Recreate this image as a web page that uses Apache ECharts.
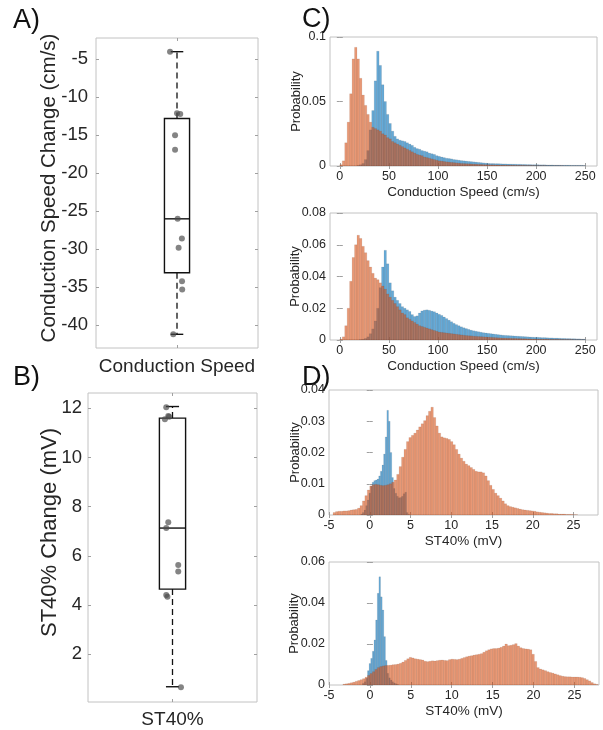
<!DOCTYPE html>
<html><head><meta charset="utf-8">
<script src="https://cdn.jsdelivr.net/npm/echarts@6/dist/echarts.min.js"></script>
<style>html,body{margin:0;padding:0;background:#fff}#c{width:603px;height:730px}</style>
</head><body><div id="c"></div>
<script>
// ---------------- DATA ----------------
// Panel A: conduction speed change boxplot
const catA = 'Conduction Speed';
const statsA = [-41.2, -33.1, -26.0, -12.8, -4.0];          // min, q1, median, q3, max (whisker ends)
const pointsA = [-4.0, -12.1, -12.2, -15.0, -16.9, -26.0, -28.6, -29.8, -34.2, -35.3, -41.2];
const jitterA = [-0.043, 0.0, 0.02, -0.012, -0.012, 0.004, 0.03, 0.01, 0.031, 0.032, -0.023];
const ticksAy = [-40, -35, -30, -25, -20, -15, -10, -5];

// Panel B: ST40% change boxplot
const catB = 'ST40%';
const statsB = [0.68, 4.65, 7.13, 11.6, 12.07];
const pointsB = [12.04, 11.69, 11.65, 11.55, 7.37, 7.13, 5.63, 5.36, 4.41, 4.34, 0.66];
const jitterB = [-0.037, -0.025, -0.02, -0.045, -0.025, -0.037, 0.034, 0.034, -0.037, -0.03, 0.05];
const ticksBy = [2, 4, 6, 8, 10, 12];

// Panel C: conduction speed histograms (bin start 0, width 2.5 cm/s)
const csBinStart = 0, csBinWidth = 2.5;
const csTicks = [0, 50, 100, 150, 200, 250];
const c1Blue = [0,0,0,0,0,0,0,0.0005,0.001,0.002,
 0.005,0.012,0.028,0.043,0.066,0.089,0.078,0.063,0.050,0.040,
 0.033,0.027,0.023,0.021,0.020,0.0195,0.019,0.018,0.017,0.016,
 0.0145,0.0135,0.013,0.012,0.0115,0.011,0.010,0.0095,0.009,0.008,
 0.0075,0.007,0.0065,0.006,0.0058,0.0055,0.005,0.0048,0.0045,0.0042,
 0.004,0.0038,0.0036,0.0034,0.0032,0.003,0.0028,0.0026,0.0024,0.0022,
 0.002,0.0019,0.0019,0.0018,0.0018,0.0017,0.0016,0.0016,0.0015,0.0015,
 0.0014,0.0014,0.0013,0.0013,0.0012,0.0012,0.0011,0.0011,0.001,0.001,
 0.001,0.0009,0.0009,0.0009,0.0008,0.0008,0.0008,0.0007,0.0007,0.0007,
 0.0006,0.0006,0.0006,0.0006,0.0005,0.0005,0.0005,0.0005,0.0005,0.0004];
const c1Orange = [0.001,0.004,0.018,0.034,0.056,0.083,0.092,0.083,0.068,0.055,
 0.047,0.040,0.034,0.030,0.029,0.028,0.027,0.025,0.024,0.022,
 0.021,0.019,0.018,0.017,0.016,0.015,0.014,0.013,0.012,0.011,
 0.010,0.009,0.0085,0.008,0.007,0.0065,0.006,0.0055,0.005,0.0045,
 0.004,0.0038,0.0035,0.0032,0.003,0.0028,0.0026,0.0024,0.0022,0.002,
 0.0019,0.0018,0.0017,0.0016,0.0015,0.0014,0.0013,0.0012,0.0011,0.001,
 0.001,0.0009,0.0009,0.0008,0.0008,0.0007,0.0007,0.0007,0.0006,0.0006,
 0.0006,0.0005,0.0005,0.0005,0.0005,0.0004,0.0004,0.0004,0.0004,0.0003,
 0.0003,0.0003,0.0003,0.0003,0.0002,0.0002,0.0002,0.0002,0.0002,0.0002,
 0.0002,0.0001,0.0001,0.0001,0.0001,0.0001,0.0001,0.0001,0.0001,0.0001];
const c2Blue = [0,0,0,0,0,0,0,0,0.0003,0.0005,
 0.001,0.002,0.004,0.007,0.012,0.020,0.033,0.046,0.0565,0.048,
 0.036,0.031,0.027,0.025,0.023,0.021,0.020,0.019,0.018,0.016,
 0.0148,0.0152,0.017,0.0183,0.0188,0.019,0.0187,0.0182,0.0178,0.017,
 0.0162,0.0155,0.0145,0.0135,0.0125,0.0115,0.0105,0.0097,0.009,0.0083,
 0.0077,0.0072,0.0067,0.0062,0.0058,0.0055,0.0052,0.0049,0.0046,0.0044,
 0.0042,0.004,0.0038,0.0036,0.0034,0.0032,0.003,0.0029,0.0028,0.0027,
 0.0026,0.0025,0.0024,0.0023,0.0022,0.0021,0.002,0.0019,0.0018,0.0017,
 0.0017,0.0016,0.0015,0.0015,0.0014,0.0013,0.0013,0.0012,0.0012,0.0011,
 0.001,0.001,0.0009,0.0009,0.0008,0.0008,0.0007,0.0007,0.0006,0.0006];
const c2Orange = [0.0005,0.002,0.009,0.020,0.037,0.052,0.060,0.066,0.064,0.059,
 0.055,0.050,0.046,0.042,0.039,0.038,0.036,0.034,0.032,0.029,
 0.027,0.025,0.023,0.021,0.019,0.017,0.016,0.014,0.013,0.012,
 0.011,0.010,0.009,0.0085,0.008,0.0075,0.007,0.0065,0.006,0.0055,
 0.005,0.0048,0.0046,0.0044,0.0042,0.004,0.0038,0.0036,0.0034,0.0032,
 0.003,0.0028,0.0027,0.0026,0.0024,0.0023,0.0022,0.0021,0.002,0.0019,
 0.0018,0.0017,0.0016,0.0015,0.0014,0.0013,0.0012,0.0012,0.0011,0.0011,
 0.001,0.001,0.0009,0.0009,0.0008,0.0008,0.0007,0.0007,0.0006,0.0006,
 0.0005,0.0005,0.0005,0.0005,0.0005,0.0004,0.0004,0.0004,0.0004,0.0004,
 0.0003,0.0003,0.0003,0.0003,0.0003,0.0002,0.0002,0.0002,0.0002,0.0002];

// Panel D: ST40% histograms
const stTicks = [-5, 0, 5, 10, 15, 20, 25];
const d1BlueStart = -1.1, d1BlueWidth = 0.2;
const d1Blue = [0.0003,0.0008,0.0016,0.0030,0.0048,0.0070,0.0092,0.0105,0.0110,0.0112,
 0.0115,0.0125,0.0140,0.0160,0.0195,0.0250,0.0335,0.0300,0.0200,0.0120,
 0.0085,0.0070,0.0060,0.0055,0.0056,0.0060,0.0068,0.0073,0.0008,0.0002];
const d1OrangeStart = -4.5, d1OrangeWidth = 0.3;
const d1Orange = [0.0008,0.0011,0.0012,0.0012,0.0013,0.0013,0.0014,0.0016,0.0017,0.0018,
 0.0022,0.0030,0.0045,0.0062,0.0080,0.0093,0.0097,0.0098,0.0097,0.0095,
 0.0094,0.0095,0.0097,0.0100,0.0105,0.0112,0.0130,0.0155,0.0185,0.0210,
 0.0235,0.0248,0.0255,0.0262,0.0272,0.0282,0.0292,0.0302,0.0318,0.0332,
 0.0345,0.0312,0.0285,0.0262,0.0250,0.0247,0.0245,0.0242,0.0235,0.0225,
 0.0210,0.0195,0.0182,0.0172,0.0163,0.0158,0.0152,0.0146,0.0140,0.0138,
 0.0138,0.0135,0.0125,0.0110,0.0095,0.0082,0.0070,0.0062,0.0054,0.0045,
 0.0036,0.0030,0.0027,0.0025,0.0023,0.0021,0.0019,0.0017,0.0016,0.0015,
 0.0014,0.0013,0.0012,0.0010,0.0009,0.0008,0.0007,0.0006,0.0005,0.0005,
 0.0004,0.0004,0.0003,0.0003,0.0003,0.0002,0.0002,0.0002,0.0001,0.0001];
const d2BlueStart = -0.9, d2BlueWidth = 0.2;
const d2Blue = [0.0008,0.0016,0.0033,0.0070,0.0105,0.0130,0.0165,0.0220,0.0317,0.0447,
 0.0528,0.0430,0.0366,0.0236,0.0120,0.0057,0.0035,0.0024,0.0016,0.0010,
 0.0006,0.0003];
const d2OrangeStart = -3.3, d2OrangeWidth = 0.3;
const d2Orange = [0.0004,0.0006,0.0008,0.0011,0.0014,0.0018,0.0022,0.0026,0.0031,0.0038,
 0.0047,0.0056,0.0065,0.0076,0.0085,0.0090,0.0093,0.0095,0.0096,0.0097,
 0.0099,0.0100,0.0102,0.0106,0.0112,0.0120,0.0128,0.0135,0.0132,0.0128,
 0.0126,0.0124,0.0122,0.0116,0.0114,0.0116,0.0118,0.0117,0.0119,0.0121,
 0.0122,0.0120,0.0119,0.0124,0.0126,0.0125,0.0124,0.0126,0.0130,0.0134,
 0.0138,0.0141,0.0143,0.0146,0.0148,0.0150,0.0153,0.0160,0.0167,0.0172,
 0.0176,0.0178,0.0178,0.0180,0.0184,0.0190,0.0200,0.0192,0.0194,0.0197,
 0.0202,0.0190,0.0182,0.0178,0.0176,0.0175,0.0172,0.0150,0.0115,0.0085,
 0.0078,0.0074,0.0070,0.0065,0.0061,0.0058,0.0054,0.0050,0.0046,0.0043,
 0.0041,0.0040,0.0040,0.0039,0.0039,0.0039,0.0038,0.0036,0.0032,0.0026,
 0.0020,0.0012,0.0006,0.0003];

// ---------------- STYLE / LAYOUT ----------------
const FONT = '"Liberation Sans", Arial, Helvetica, sans-serif';
const TXT = '#262626';
const BORDER = '#c2c2c2';
const TICK = '#a0a0a0';
const BLUE = 'rgba(0,114,189,0.6)';
const ORANGE = 'rgba(217,83,25,0.6)';
const EDGE = 'rgba(60,40,30,0.16)';
const BOX_W = 0.155;

const grids = [
  {left:96, top:38, width:162, height:310},
  {left:88, top:393, width:169, height:309},
  {left:330, top:37, width:267, height:129},
  {left:330, top:213, width:267, height:127},
  {left:329, top:390, width:269, height:125},
  {left:329, top:562, width:270, height:123}
].map(g => Object.assign({show:true, borderColor:BORDER, borderWidth:1, backgroundColor:'transparent'}, g));

function tickStyle(vals){ return {show:true, inside:true, length:3, lineStyle:{color:TICK, width:1}, customValues:vals}; }
function axes(dim, gi, min, max, vals, o){
  const main = {
    type:'value', gridIndex:gi, min:min, max:max,
    position: dim === 'x' ? 'bottom' : 'left',
    axisLine:{show:false}, splitLine:{show:false},
    axisTick: tickStyle(vals),
    axisLabel:{show:true, customValues:vals, color:TXT, fontFamily:FONT, fontSize:o.fs, margin:o.margin, formatter:o.fmt},
    name:o.name || '', nameLocation:'middle', nameGap:o.gap || 0, nameMoveOverlap:false,
    nameTextStyle:{color:TXT, fontFamily:FONT, fontSize:o.nfs || 12, padding:o.pad || 0}
  };
  const opp = {
    type:'value', gridIndex:gi, min:min, max:max,
    position: dim === 'x' ? 'top' : 'right',
    axisLine:{show:false}, splitLine:{show:false},
    axisTick: tickStyle(vals), axisLabel:{show:false}
  };
  return [main, opp];
}

const xAxes = [].concat(
  axes('x', 0, 0.5, 1.5, [1], {fs:19, margin:9, fmt:() => catA}),
  axes('x', 1, 0.5, 1.5, [1], {fs:19, margin:8, fmt:() => catB}),
  axes('x', 2, -10, 262, csTicks, {fs:12.5, margin:4, name:'Conduction Speed (cm/s)', nfs:13.5, gap:19}),
  axes('x', 3, -10, 262, csTicks, {fs:12.5, margin:4, name:'Conduction Speed (cm/s)', nfs:13.5, gap:19}),
  axes('x', 4, -5, 28, stTicks, {fs:12.5, margin:4, name:'ST40% (mV)', nfs:13.5, gap:19}),
  axes('x', 5, -5, 28, stTicks, {fs:12.5, margin:4, name:'ST40% (mV)', nfs:13.5, gap:19})
);
const yAxes = [].concat(
  axes('y', 0, -43, -2.2, ticksAy, {fs:18.5, margin:8, name:'Conduction Speed Change (cm/s)', nfs:20.5, gap:36, pad:[0,0,0,10]}),
  axes('y', 1, 0.06, 12.62, ticksBy, {fs:18.5, margin:6, name:'ST40% Change (mV)', nfs:22, gap:27, pad:[0,0,0,30]}),
  axes('y', 2, 0, 0.1, [0, 0.05, 0.1], {fs:12.5, margin:4, name:'Probability', nfs:13, gap:27}),
  axes('y', 3, 0, 0.08, [0, 0.02, 0.04, 0.06, 0.08], {fs:12.5, margin:4, name:'Probability', nfs:13, gap:28}),
  axes('y', 4, 0, 0.04, [0, 0.01, 0.02, 0.03, 0.04], {fs:12.5, margin:4, name:'Probability', nfs:13, gap:27}),
  axes('y', 5, 0, 0.06, [0, 0.02, 0.04, 0.06], {fs:12.5, margin:4, name:'Probability', nfs:13, gap:28})
);

function renderBox(params, api){
  const x = api.value(0);
  const p = [1,2,3,4,5].map(i => api.coord([x, api.value(i)]));
  const cx = p[0][0];
  const bw = api.size([BOX_W, 0])[0];
  const hw = bw / 2, cw = bw / 4;
  const solid = {stroke:'#111', lineWidth:1.4, fill:null};
  const dash = {stroke:'#111', lineWidth:1.3, lineDash:[6,4], fill:null};
  return {type:'group', children:[
    {type:'line', shape:{x1:cx, y1:p[3][1], x2:cx, y2:p[4][1]}, style:dash},
    {type:'line', shape:{x1:cx, y1:p[1][1], x2:cx, y2:p[0][1]}, style:dash},
    {type:'line', shape:{x1:cx-cw, y1:p[4][1], x2:cx+cw, y2:p[4][1]}, style:solid},
    {type:'line', shape:{x1:cx-cw, y1:p[0][1], x2:cx+cw, y2:p[0][1]}, style:solid},
    {type:'rect', shape:{x:cx-hw, y:p[3][1], width:bw, height:p[1][1]-p[3][1]}, style:solid},
    {type:'line', shape:{x1:cx-hw, y1:p[2][1], x2:cx+hw, y2:p[2][1]}, style:solid}
  ]};
}
function makeBarRender(fill){
  return function(params, api){
    const a = api.coord([api.value(0), api.value(2)]);
    const b = api.coord([api.value(1), 0]);
    return {type:'rect', shape:{x:a[0], y:a[1], width:b[0]-a[0], height:b[1]-a[1]},
            style:{fill:fill, stroke:EDGE, lineWidth:0.5}};
  };
}
function bins(start, width, values){
  return values.map((v, i) => [start + i*width, start + (i+1)*width, v]);
}
function histSeries(gi, start, width, values, fill){
  return {type:'custom', xAxisIndex:2*gi, yAxisIndex:2*gi, clip:true,
    renderItem: makeBarRender(fill), dimensions:['x0','x1','p'], encode:{x:[0,1], y:2},
    data: bins(start, width, values), silent:true};
}
function boxSeries(gi, stats){
  return {type:'custom', xAxisIndex:2*gi, yAxisIndex:2*gi, renderItem:renderBox,
    encode:{x:0, y:[1,2,3,4,5]}, data:[[1].concat(stats)], z:2, silent:true};
}
function dotSeries(gi, ys, jit){
  return {type:'scatter', xAxisIndex:2*gi, yAxisIndex:2*gi, symbolSize:6,
    itemStyle:{color:'rgba(75,75,75,0.85)'}, z:3, silent:true,
    data: ys.map((y, i) => [1 + jit[i], y])};
}

const series = [
  boxSeries(0, statsA), dotSeries(0, pointsA, jitterA),
  boxSeries(1, statsB), dotSeries(1, pointsB, jitterB),
  histSeries(2, csBinStart, csBinWidth, c1Blue, BLUE),
  histSeries(2, csBinStart, csBinWidth, c1Orange, ORANGE),
  histSeries(3, csBinStart, csBinWidth, c2Blue, BLUE),
  histSeries(3, csBinStart, csBinWidth, c2Orange, ORANGE),
  histSeries(4, d1BlueStart, d1BlueWidth, d1Blue, BLUE),
  histSeries(4, d1OrangeStart, d1OrangeWidth, d1Orange, ORANGE),
  histSeries(5, d2BlueStart, d2BlueWidth, d2Blue, BLUE),
  histSeries(5, d2OrangeStart, d2OrangeWidth, d2Orange, ORANGE)
];

const letter = (t, x, y) => ({type:'text', left:x, top:y,
  style:{text:t, fill:'#111', font:'27px ' + FONT}});

const chart = echarts.init(document.getElementById('c'), null, {renderer:'canvas'});
chart.setOption({
  animation:false,
  backgroundColor:'#fff',
  grid: grids,
  xAxis: xAxes,
  yAxis: yAxes,
  series: series,
  graphic: [letter('A)', 13, 7), letter('B)', 13, 364), letter('C)', 302, 6), letter('D)', 302, 364)]
});
</script>
</body></html>
